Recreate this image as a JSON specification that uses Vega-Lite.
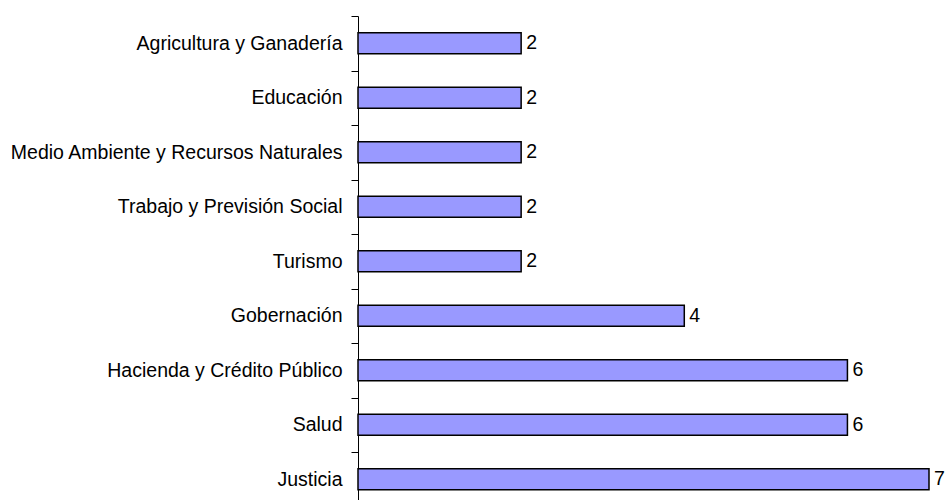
{
  "$schema": "https://vega.github.io/schema/vega-lite/v6.json",
  "width": 571,
  "height": 484,
  "autosize": "none",
  "padding": {"left": 358, "top": 16, "right": 19, "bottom": 0},
  "background": "white",
  "config": {"view": {"stroke": null}},
  "data": {
    "values": [
      {"sector": "Agricultura y Ganadería", "valor": 2},
      {"sector": "Educación", "valor": 2},
      {"sector": "Medio Ambiente y Recursos Naturales", "valor": 2},
      {"sector": "Trabajo y Previsión Social", "valor": 2},
      {"sector": "Turismo", "valor": 2},
      {"sector": "Gobernación", "valor": 4},
      {"sector": "Hacienda y Crédito Público", "valor": 6},
      {"sector": "Salud", "valor": 6},
      {"sector": "Justicia", "valor": 7}
    ]
  },
  "encoding": {
    "y": {
      "field": "sector",
      "type": "nominal",
      "sort": null,
      "scale": {"range": [0, 490.5], "paddingInner": 0, "paddingOuter": 0},
      "axis": {
        "title": null,
        "tickBand": "extent",
        "tickSize": 7,
        "tickColor": "#000000",
        "domainColor": "#000000",
        "domainWidth": 1,
        "labelPadding": 9,
        "labelFont": "Liberation Sans",
        "labelFontSize": 19.5,
        "labelColor": "#000000",
        "labelLimit": 400
      }
    },
    "x": {
      "field": "valor",
      "type": "quantitative",
      "scale": {"domain": [0, 7], "nice": false},
      "axis": null
    }
  },
  "layer": [
    {
      "mark": {"type": "bar", "size": 21, "fill": "#9999FF", "stroke": "#000000", "strokeWidth": 1.5}
    },
    {
      "mark": {"type": "text", "align": "left", "baseline": "middle", "dx": 5, "font": "Liberation Sans", "fontSize": 19.5, "color": "#000000"},
      "encoding": {"text": {"field": "valor", "type": "quantitative"}}
    }
  ]
}
